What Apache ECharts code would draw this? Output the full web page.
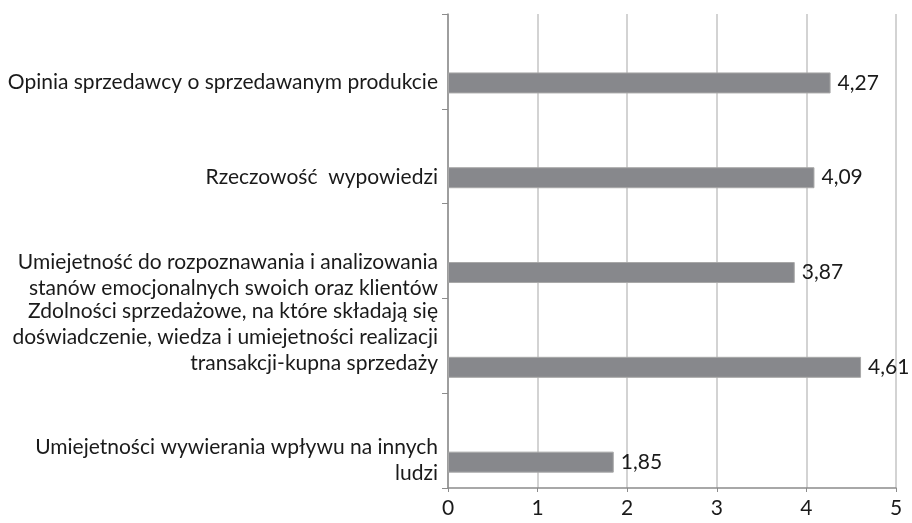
<!DOCTYPE html>
<html>
<head>
<meta charset="utf-8">
<script src="https://cdn.jsdelivr.net/npm/echarts@6/dist/echarts.min.js"></script>
<style>
  html, body { margin: 0; padding: 0; background: #fff; }
  #chart { width: 912px; height: 523px; }
</style>
</head>
<body>
<div id="chart"></div>
<script>
// categories top to bottom
const categories = [
    'Opinia sprzedawcy o sprzedawanym produkcie',
    'Rzeczowość  wypowiedzi',
    'Umiejetność do rozpoznawania i analizowania\nstanów emocjonalnych swoich oraz klientów',
    'Zdolności sprzedażowe, na które składają się\ndoświadczenie, wiedza i umiejetności realizacji\ntransakcji-kupna sprzedaży',
    'Umiejetności wywierania wpływu na innych\nludzi'
]
const values = [4.27, 4.09, 3.87, 4.61, 1.85]
const xTicks = [0, 1, 2, 3, 4, 5]

// vertical shift of each category label in px (+ down, - up)
const labelShift = [21, 21, 24, -9, 20]

const chart = echarts.init(document.getElementById('chart'))
const font = 'Lato, "Open Sans", sans-serif'
const txt = { fontFamily: font, fontSize: 21, color: '#1a1a1a', lineHeight: 26, align: 'right' }

const rich = { t: txt }
labelShift.forEach((s, i) => {
    rich['g' + i] = { fontSize: 1, lineHeight: Math.abs(s) * 2 }
})

const option = {
    animation: false,
    grid: {
        left: 448,
        right: 16,
        top: 14,
        bottom: 35,
        containLabel: false
    },
    xAxis: {
        type: 'value',
        min: xTicks[0],
        max: xTicks[xTicks.length - 1],
        interval: 1,
        axisLine: { show: true, lineStyle: { color: '#8c8c8c', width: 1.5 } },
        axisTick: { show: true, length: 4, lineStyle: { color: '#8c8c8c' } },
        splitLine: { show: true, lineStyle: { color: '#c4c4c4', width: 1.5 } },
        axisLabel: {
            margin: 10,
            color: '#1a1a1a',
            fontFamily: font,
            fontSize: 21
        }
    },
    yAxis: {
        type: 'category',
        inverse: true,
        data: categories,
        axisLine: { show: true, lineStyle: { color: '#8c8c8c', width: 1.5 } },
        axisTick: { show: true, length: 6, lineStyle: { color: '#8c8c8c' } },
        axisLabel: {
            margin: 10,
            align: 'right',
            rich: rich,
            formatter (value, idx) {
                const body = value.split('\n').map(l => '{t|' + l + '}').join('\n')
                const gap = '{g' + idx + '| }'
                return labelShift[idx] >= 0 ? gap + '\n' + body : body + '\n' + gap
            }
        }
    },
    series: [
        {
            // empty placeholder series, pushes the real bar down in its band
            type: 'bar',
            data: categories.map(() => '-'),
            barWidth: 21,
            barGap: '105%'
        },
        {
            type: 'bar',
            data: values,
            barWidth: 21,
            barGap: '105%',
            itemStyle: {
                color: '#87888c',
                borderColor: '#a8a8a8',
                borderWidth: 1
            },
            label: {
                show: true,
                position: 'right',
                distance: 7,
                color: '#1a1a1a',
                fontFamily: font,
                fontSize: 21,
                formatter (p) {
                    return String(p.value).replace('.', ',')
                }
            }
        }
    ]
}
chart.setOption(option)
</script>
</body>
</html>
